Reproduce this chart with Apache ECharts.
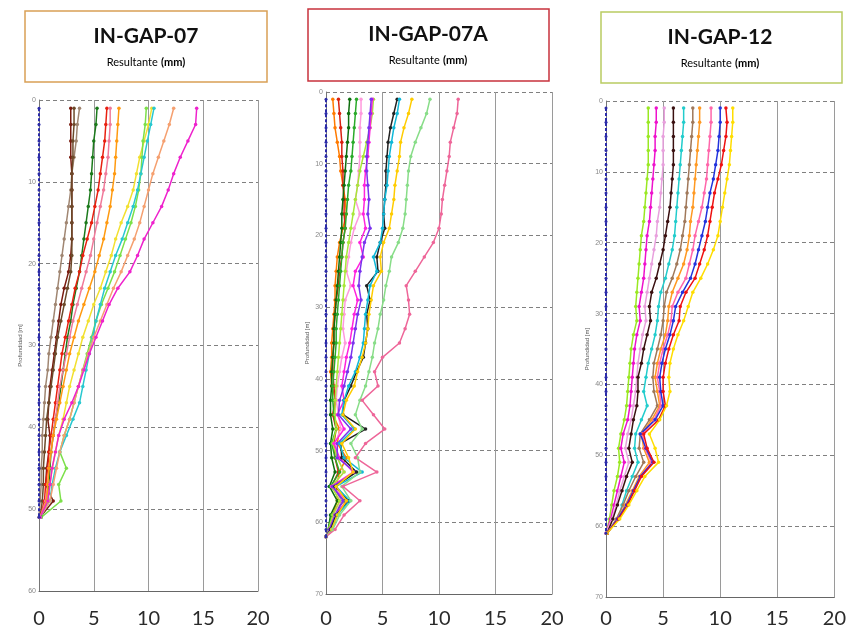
<!DOCTYPE html>
<html><head><meta charset="utf-8">
<script src="https://cdn.jsdelivr.net/npm/echarts@6/dist/echarts.min.js"></script>
<style>html,body{margin:0;padding:0;background:#fff}#c{width:849px;height:634px}</style>
</head><body><div id="c"></div>
<script>
// ---------- DATA ----------
const titles = ['IN-GAP-07', 'IN-GAP-07A', 'IN-GAP-12'];
const subtitleWord = 'Resultante';
const subtitleUnit = '(mm)';
const yAxisName = 'Profundidad [m]';
const xTicks = [0, 5, 10, 15, 20];
const depthMax = [60, 70, 70];

// IN-GAP-07 (depth, m)
const depth07 = [1,3,5,7,9,11,13,15,17,19,21,23,25,27,29,31,33,35,37,39,41,43,45,47,49,51];
const g07_ref     = [0,0,0,0,0,0,0,0,0,0,0,0,0,0,0,0,0,0,0,0,0,0,0,0,0,0];
const g07_maroon  = [2.9,2.9,2.9,2.9,3.0,3.0,3.0,3.0,3.0,2.9,2.7,2.3,2.0,1.8,1.6,1.4,1.2,1.0,0.9,0.8,1.0,0.9,0.7,0.6,1.3,0.1];
const g07_brown   = [3.2,3.2,3.1,3.1,3.0,3.0,3.0,3.0,3.0,3.0,2.9,2.6,2.3,2.0,1.7,1.5,1.3,1.1,0.9,0.7,0.6,0.5,0.4,0.4,0.3,0.1];
const g07_taupe   = [3.7,3.5,3.4,3.2,3.0,2.9,2.7,2.5,2.3,2.1,1.9,1.7,1.5,1.3,1.1,0.9,0.8,0.6,0.5,0.4,0.3,0.3,0.2,0.2,0.1,0.0];
const g07_green   = [5.3,5.2,5.0,4.9,4.8,4.7,4.5,4.3,4.1,3.9,3.7,3.4,3.1,2.9,2.6,2.4,2.2,2.0,1.8,1.5,1.3,1.1,1.0,0.9,0.8,0.2];
const g07_red     = [6.2,6.1,6.0,5.8,5.6,5.4,5.1,4.8,4.4,4.0,3.7,3.3,3.0,2.7,2.4,2.1,1.9,1.7,1.5,1.3,1.1,0.9,0.8,0.6,0.5,0.1];
const g07_pink    = [6.5,6.5,6.4,6.3,6.1,5.9,5.6,5.3,5.0,4.7,4.3,3.9,3.5,3.1,2.8,2.5,2.2,1.9,1.7,1.5,1.3,1.1,0.9,0.8,0.6,0.1];
const g07_orange  = [7.3,7.2,7.1,7.0,6.9,6.7,6.5,6.2,5.9,5.5,5.1,4.6,4.1,3.6,3.2,2.8,2.5,2.2,1.9,1.6,1.3,1.1,0.9,0.8,0.7,0.1];
const g07_yellow  = [10.3,10.0,9.6,9.2,8.9,8.6,8.1,7.5,7.0,6.6,6.1,5.6,5.0,4.5,4.0,3.6,3.2,2.8,2.5,2.2,1.8,1.5,1.2,1.0,0.8,0.1];
const g07_lgreen  = [9.8,9.7,9.5,9.4,9.3,9.1,8.8,8.4,7.9,7.4,6.9,6.3,5.7,5.2,4.8,4.4,4.0,3.6,3.2,2.8,2.3,1.9,2.5,1.8,2.0,0.2];
const g07_cyan    = [10.5,10.2,9.9,9.6,9.3,9.0,8.6,8.1,7.6,7.0,6.5,6.0,5.6,5.2,4.9,4.6,4.3,4.0,3.7,3.1,2.5,1.9,1.5,1.2,1.0,0.1];
const g07_salmon  = [12.3,11.9,11.4,10.9,10.4,10.0,9.6,9.2,8.7,8.1,7.5,6.8,6.2,5.6,5.0,4.5,4.0,3.6,3.2,2.8,2.3,1.9,1.6,1.3,1.0,0.1];
const g07_magenta = [14.4,14.3,13.6,12.9,12.3,11.8,11.2,10.4,9.6,9.0,8.3,7.2,6.4,5.8,5.2,4.6,4.1,3.6,3.0,2.3,1.8,1.5,1.2,1.0,0.8,0.1];

// IN-GAP-07A
const depth07A = [1,3,5,7,9,11,13,15,17,19,21,23,25,27,29,31,33,35,37,39,41,43,45,47,49,51,53,55,57,59,61,62];
const g7a_ref     = [0,0,0,0,0,0,0,0,0,0,0,0,0,0,0,0,0,0,0,0,0,0,0,0,0,0,0,0,0,0,0,0];
const g7a_orange  = [0.6,0.7,0.8,1.0,1.2,1.3,1.5,1.7,1.8,1.5,1.2,1.0,0.9,0.8,0.8,0.7,0.6,0.5,0.5,0.4,0.5,0.9,0.6,1.2,1.0,1.8,1.2,0.9,1.0,0.6,0.2,0];
const g7a_red     = [1.1,1.2,1.3,1.4,1.4,1.5,1.5,1.6,1.6,1.7,1.5,1.4,1.2,1.1,0.9,0.8,0.7,0.7,0.6,0.6,0.7,0.8,0.6,0.9,0.7,0.8,1.1,0.5,1.3,0.6,0.3,0];
const g7a_dgreen  = [2.1,2.0,2.0,1.9,1.8,1.7,1.6,1.5,1.4,1.4,1.3,1.2,1.1,1.0,0.9,0.8,0.7,0.7,0.6,0.5,0.5,0.4,0.4,0.6,0.4,0.5,0.8,0.3,1.0,0.4,0.2,0];
const g7a_green   = [2.7,2.6,2.5,2.4,2.3,2.2,2.0,1.9,1.8,1.7,1.5,1.4,1.3,1.2,1.1,1.0,0.9,0.9,0.8,0.7,0.6,0.6,0.7,0.9,0.5,0.8,1.2,0.4,1.6,0.5,0.2,0];
const g7a_pink    = [3.1,3.1,3.0,3.0,3.0,2.9,2.8,2.6,3.0,2.5,2.2,2.0,1.8,2.2,1.7,1.6,1.5,1.7,1.4,1.2,1.0,0.9,1.1,1.3,0.8,1.0,1.6,0.5,1.3,0.7,0.3,0];
const g7a_lime    = [4.2,4.1,3.9,3.6,3.3,3.0,2.8,2.6,2.4,2.2,2.0,1.8,1.7,1.6,1.5,1.4,1.3,1.2,1.1,1.0,0.9,0.8,0.8,0.9,0.6,1.0,1.6,0.5,1.2,0.6,0.2,0];
const g7a_magenta = [4.1,4.0,3.9,3.8,3.7,3.5,3.4,3.4,3.3,3.5,3.0,3.3,2.6,2.4,2.8,2.5,2.3,2.1,1.8,1.6,1.4,1.6,1.0,1.6,0.7,1.2,2.4,0.5,1.8,0.8,0.3,0];
const g7a_purple  = [4.0,3.9,3.8,3.7,3.6,3.6,3.7,3.8,3.7,3.9,3.4,3.2,3.0,2.9,3.1,2.8,2.6,2.4,2.2,1.9,1.6,1.2,1.1,2.2,1.0,1.0,2.6,0.6,1.5,0.8,0.3,0];
const g7a_black   = [6.3,6.0,5.7,5.5,5.4,5.3,5.3,5.2,5.1,5.2,4.8,4.5,4.6,3.6,3.9,3.6,3.7,3.5,3.3,2.7,2.2,1.6,1.5,3.5,1.3,1.4,2.7,0.8,2.0,0.9,0.4,0];
const g7a_cyan    = [6.5,6.3,6.0,5.8,5.6,5.5,5.4,5.2,5.1,5.0,4.8,4.2,4.5,3.9,3.7,3.5,3.4,3.3,3.0,2.6,2.0,1.6,1.4,2.5,1.2,1.6,3.2,0.9,2.1,1.0,0.5,0];
const g7a_yellow  = [7.6,7.3,6.9,6.6,6.5,6.3,6.1,6.0,5.8,5.6,5.1,4.8,4.9,4.2,4.0,3.8,3.7,3.5,3.2,2.8,2.5,1.8,1.5,2.6,1.4,2.0,2.4,0.9,1.8,1.0,0.5,0];
const g7a_lgreen  = [9.2,8.9,8.4,7.9,7.5,7.3,7.2,7.1,7.0,6.8,6.4,5.8,5.6,5.3,5.1,4.8,4.6,4.3,4.1,3.8,3.5,3.0,2.6,3.2,2.2,2.8,3.0,1.4,2.2,1.2,0.6,0];
const g7a_rose    = [11.7,11.6,11.3,11.0,10.9,10.7,10.5,10.3,10.2,10.0,9.5,8.7,7.9,7.1,7.3,7.4,7.0,6.5,5.0,4.3,4.6,3.2,4.2,5.2,3.5,2.6,4.5,1.5,3.0,1.6,0.8,0];

// IN-GAP-12
const depth12 = [1,3,5,7,9,11,13,15,17,19,21,23,25,27,29,31,33,35,37,39,41,43,45,47,49,51,53,55,57,59,61];
const g12_ref     = [0,0,0,0,0,0,0,0,0,0,0,0,0,0,0,0,0,0,0,0,0,0,0,0,0,0,0,0,0,0,0];
const g12_lime    = [3.7,3.7,3.7,3.7,3.7,3.6,3.5,3.4,3.3,3.1,3.0,2.9,2.8,2.7,2.6,2.7,2.4,2.2,2.1,2.0,1.9,1.8,1.6,1.3,1.1,1.2,1.0,0.7,0.5,0.3,0.0];
const g12_magenta = [4.4,4.4,4.3,4.3,4.2,4.1,4.0,3.9,3.8,3.6,3.5,3.4,3.3,3.1,2.9,3.0,2.7,2.5,2.4,2.3,2.2,2.1,1.9,1.5,1.3,1.6,1.3,1.0,0.7,0.4,0.0];
const g12_pink    = [5.1,5.1,5.0,5.0,5.0,4.9,4.8,4.7,4.5,4.4,4.2,4.0,3.8,3.6,3.4,3.5,3.2,3.0,2.8,2.7,2.6,2.4,2.2,1.9,1.7,2.0,1.6,1.2,0.9,0.5,0.0];
const g12_black   = [5.9,5.9,5.9,5.9,5.9,5.8,5.7,5.6,5.4,5.2,5.0,4.7,4.4,4.0,3.8,3.9,3.6,3.3,3.1,2.8,2.8,2.7,2.4,2.2,2.0,2.3,1.8,1.4,1.0,0.6,0.1];
const g12_cyan    = [6.8,6.8,6.7,6.6,6.5,6.4,6.3,6.2,6.1,6.0,5.8,5.5,5.2,4.8,4.6,4.5,4.3,4.0,3.7,3.5,3.3,3.6,3.1,2.6,2.5,2.8,2.3,1.8,1.4,1.1,0.1];
const g12_brown   = [7.6,7.6,7.5,7.4,7.3,7.2,7.1,7.0,6.9,6.7,6.5,6.2,5.8,5.3,5.1,5.0,4.8,4.5,4.2,4.1,4.2,4.5,3.8,3.0,2.9,3.3,2.6,2.0,1.5,0.9,0.1];
const g12_orange  = [8.2,8.2,8.1,8.0,7.9,7.8,7.7,7.6,7.4,7.3,7.1,6.8,6.3,5.8,5.5,5.4,5.2,4.8,4.5,4.3,4.5,4.7,4.0,3.1,3.3,3.8,2.9,2.3,1.7,1.0,0.1];
const g12_rose    = [9.2,9.2,9.1,9.0,8.9,8.8,8.6,8.4,8.1,7.8,7.6,7.3,7.0,6.3,5.8,5.7,5.4,5.0,4.7,4.5,4.7,4.8,4.2,3.2,3.4,4.0,3.0,2.4,1.8,1.0,0.1];
const g12_blue    = [10.0,10.0,9.9,9.8,9.6,9.4,9.1,8.9,8.7,8.4,8.1,7.8,7.4,6.7,6.1,5.9,5.6,5.2,4.9,4.7,4.8,5.0,4.3,3.0,3.5,4.1,3.0,2.4,1.8,1.0,0.1];
const g12_red     = [10.5,10.6,10.5,10.3,10.1,9.8,9.5,9.3,9.1,8.9,8.6,8.2,7.8,7.0,6.5,6.4,5.9,5.5,5.2,5.0,5.0,5.2,4.6,3.3,3.6,4.2,3.1,2.5,1.9,1.1,0.1];
const g12_yellow  = [11.1,11.1,11.0,10.9,10.8,10.6,10.4,10.2,10.0,9.8,9.4,8.9,8.3,7.6,7.2,6.8,6.3,5.9,5.6,5.5,5.6,5.3,4.7,3.8,4.3,4.6,3.4,2.7,2.0,1.2,0.1];

// ---------- STYLE ----------
const REF = '#2b2ba8';
const panels = [
  { depth: depth07, series: [
    [g07_ref, REF, true], [g07_taupe, '#a08672'], [g07_maroon, '#7a1c10'], [g07_brown, '#6b4a2a'],
    [g07_green, '#1c7a1c'], [g07_red, '#e82010'], [g07_pink, '#f07a9a'], [g07_orange, '#ff9a10'],
    [g07_yellow, '#f2e030'], [g07_lgreen, '#7ce04a'], [g07_cyan, '#28c8d0'], [g07_salmon, '#f5a070'],
    [g07_magenta, '#ee22cc'] ] },
  { depth: depth07A, series: [
    [g7a_ref, REF, true], [g7a_orange, '#ff7a00'], [g7a_red, '#d82010'], [g7a_dgreen, '#0e6e0e'],
    [g7a_green, '#2aaa2a'], [g7a_pink, '#ff99dd'], [g7a_lime, '#a8e838'], [g7a_magenta, '#ff22dd'],
    [g7a_purple, '#7a33ee'], [g7a_black, '#222222'], [g7a_cyan, '#10b8d8'], [g7a_yellow, '#ffcc00'],
    [g7a_lgreen, '#88dd88'], [g7a_rose, '#ee6699'] ] },
  { depth: depth12, series: [
    [g12_ref, REF, true], [g12_lime, '#99e822'], [g12_magenta, '#ee11cc'], [g12_pink, '#e8a0dd'],
    [g12_black, '#3a1010'], [g12_cyan, '#22cccc'], [g12_brown, '#a0785a'], [g12_orange, '#ff9922'],
    [g12_rose, '#ff66aa'], [g12_blue, '#2233dd'], [g12_red, '#ee1111'], [g12_yellow, '#ffdd00'] ] }
];

const grids = [
  {left: 39, top: 100, width: 219, height: 491},
  {left: 326, top: 92, width: 226, height: 502},
  {left: 606, top: 101, width: 237, height: 496}
];
const labelMargins = [18, 15, 12];

const xAxes = grids.map((g, i) => ({
  type: 'value', gridIndex: i, min: 0, max: 20, interval: 5, position: 'bottom',
  axisLine: {onZero: false, lineStyle: {color: '#666', width: 1}},
  axisTick: {show: false},
  axisLabel: {fontSize: 20, color: '#2a2a2a', margin: labelMargins[i], fontFamily: 'Lato',
    formatter: v => xTicks.includes(v) ? String(v) : ''},
  splitLine: {show: true, lineStyle: {color: '#9a9a9a', width: 1}}
}));
const yAxes = grids.map((g, i) => ({
  type: 'value', gridIndex: i, inverse: true, min: 0, max: depthMax[i], interval: 10,
  name: yAxisName, nameLocation: 'middle', nameGap: 16, nameRotate: 90,
  nameTextStyle: {fontSize: 6, color: '#555'},
  axisLine: {show: true, lineStyle: {color: '#777'}},
  axisTick: {show: false},
  axisLabel: {fontSize: 7, color: '#888', margin: 3},
  splitLine: {show: true, lineStyle: {color: '#808080', width: 1, type: [4, 3]}}
}));

const series = [];
panels.forEach((p, i) => {
  p.series.forEach(([vals, color, isRef]) => {
    series.push({
      type: 'line', xAxisIndex: i, yAxisIndex: i, silent: true,
      data: vals.map((v, k) => [v, p.depth[k]]),
      symbol: 'circle', symbolSize: isRef ? 3 : 3.5, showSymbol: true,
      lineStyle: {color, width: isRef ? 2 : 1.5, type: isRef ? [3, 2] : 'solid'},
      itemStyle: {color},
      z: isRef ? 3 : 2
    });
  });
});

const boxes = [
  {x: 25, y: 11, w: 242, h: 71, c: '#d9a055', cx: 146},
  {x: 308, y: 9, w: 241, h: 72, c: '#c8323c', cx: 428},
  {x: 601, y: 12, w: 241, h: 71, c: '#b9cc62', cx: 720}
];
const graphic = [];
boxes.forEach((b, i) => {
  graphic.push({type: 'rect', shape: {x: b.x, y: b.y, width: b.w, height: b.h},
    style: {fill: '#fff', stroke: b.c, lineWidth: 1.5}, z: 10});
  graphic.push({type: 'text', x: b.cx, y: b.y + 25, z: 11,
    style: {text: titles[i], fill: '#111', font: 'bold 21px Lato', align: 'center', verticalAlign: 'middle'}});
  graphic.push({type: 'text', x: b.cx, y: b.y + 51, z: 11,
    style: {text: '{a|' + subtitleWord + '} {b|' + subtitleUnit + '}', align: 'center', verticalAlign: 'middle',
      rich: {a: {fontSize: 11, color: '#7a7a7a', fontFamily: 'Lato'},
             b: {fontSize: 11, color: '#333', fontWeight: 'bold', fontFamily: 'Lato'}}}});
});

const chart = echarts.init(document.getElementById('c'));
chart.setOption({
  animation: false,
  backgroundColor: '#fff',
  grid: grids,
  xAxis: xAxes,
  yAxis: yAxes,
  series,
  graphic
});
</script></body></html>
